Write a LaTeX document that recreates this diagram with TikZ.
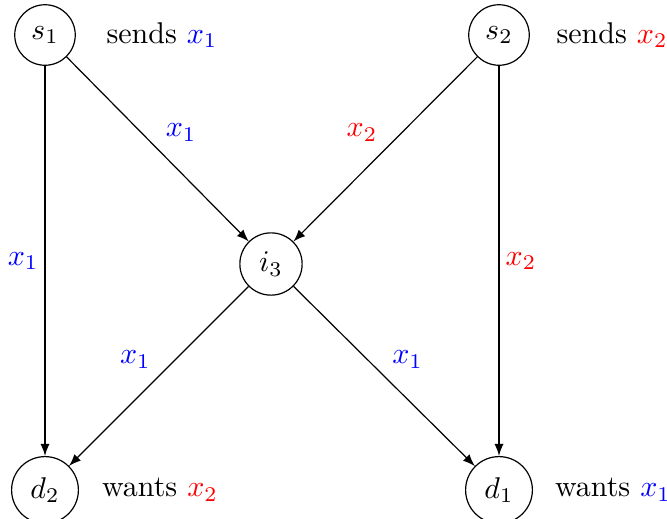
\documentclass[tikz,border=0pt]{standalone}
\usetikzlibrary{arrows}
\begin{document}
\begin{tikzpicture}[x=0.33333pt,y=-0.33333pt,
  vert/.style={draw,circle},
  edge/.style={-latex},
  lab/.style={inner sep=1pt}]
\useasboundingbox (0,0) rectangle (667,518);
\node[vert] (s1) at (45,35) {$s_1$};
\node[vert] (s2) at (499,35) {$s_2$};
\node[vert] (i3) at (271,264) {$i_3$};
\node[vert] (d2) at (45,490) {$d_2$};
\node[vert] (d1) at (499,490) {$d_1$};
\node (t1) at (162,35) {sends $\color{blue}x_1$};
\node (t2) at (612,35) {sends $\color{red}x_2$};
\node (t3) at (160,490) {wants $\color{red}x_2$};
\node (t4) at (613,490) {wants $\color{blue}x_1$};
\draw[edge] (s1) -- node[lab,above right=1.5pt] {$\color{blue}x_1$} (i3);
\draw[edge] (s2) -- node[lab,above left=1.5pt] {$\color{red}x_2$} (i3);
\draw[edge] (s1) -- node[lab,left=1pt] {$\color{blue}x_1$} (d2);
\draw[edge] (s2) -- node[lab,right=1pt] {$\color{red}x_2$} (d1);
\draw[edge] (i3) -- node[lab,above left=1.5pt] {$\color{blue}x_1$} (d2);
\draw[edge] (i3) -- node[lab,above right=1.5pt] {$\color{blue}x_1$} (d1);
\end{tikzpicture}
\end{document}
